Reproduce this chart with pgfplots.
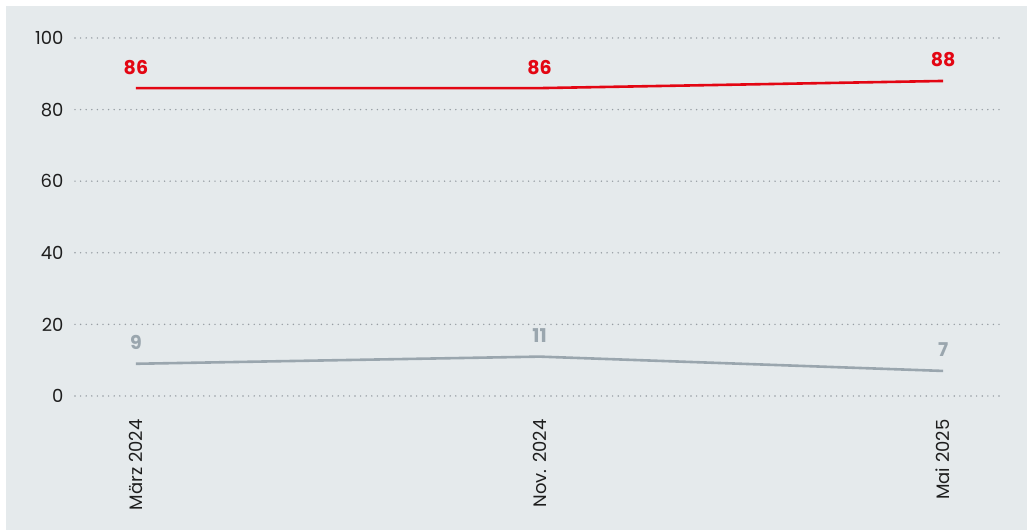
\documentclass[border=0pt]{standalone}
\usepackage{fontspec}
\setmainfont{Poppins}
\usepackage{pgfplots}
\pgfplotsset{compat=1.18}
\definecolor{bg}{HTML}{E5EAEC}
\definecolor{myred}{HTML}{E30613}
\definecolor{mygray}{HTML}{9AA6AE}
\definecolor{gridc}{HTML}{969DA3}
\definecolor{txt}{HTML}{1E1E1E}
\begin{document}
\begin{tikzpicture}[x=1pt,y=1pt]
\useasboundingbox (-75,-136) rectangle (954,396);
\fill[bg] (-69,-134) rectangle (952,390);
\begin{axis}[
  at={(0,0)}, anchor=south west,
  scale only axis, width=925pt, height=358pt,
  xmin=-0.151, xmax=2.141, ymin=0, ymax=100,
  axis line style={draw=none},
  tick style={draw=none},
  xtick={0,1,2},
  xticklabels={März 2024,Nov. 2024,Mai 2025},
  ytick={0,20,40,60,80,100},
  ymajorgrids,
  grid style={gridc, line width=1.6pt, line cap=round, dash pattern=on 0pt off 5.6pt},
  /pgf/number format/assume math mode=true,
  ticklabel style={font=\fontsize{18}{20}\selectfont, text=txt},
  yticklabel style={xshift=-8pt},
  xticklabel style={rotate=90, anchor=east, xshift=-20pt},
  clip=false,
  nodes near coords,
  every node near coord/.style={font=\fontsize{19}{20}\selectfont\bfseries, anchor=center, yshift=21pt},
]
\addplot[myred, line width=2.6pt, nodes near coords style={text=myred}] coordinates {(0,86) (1,86) (2,88)};
\addplot[mygray, line width=2.6pt, nodes near coords style={text=mygray}] coordinates {(0,9) (1,11) (2,7)};
\end{axis}
\end{tikzpicture}
\end{document}
